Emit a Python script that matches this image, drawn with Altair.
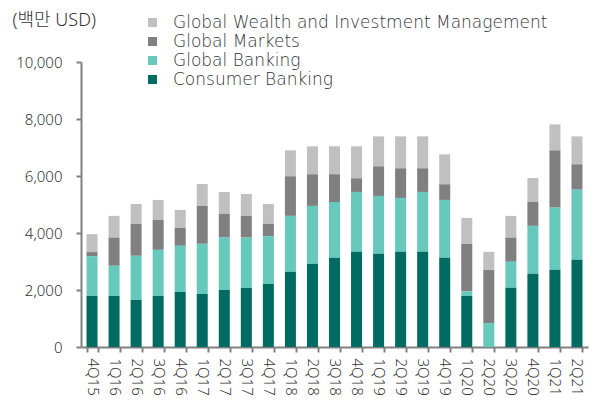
import altair as alt
import pandas as pd

quarters = ["4Q15", "1Q16", "2Q16", "3Q16", "4Q16", "1Q17", "2Q17", "3Q17", "4Q17",
            "1Q18", "2Q18", "3Q18", "4Q18", "1Q19", "2Q19", "3Q19", "4Q19",
            "1Q20", "2Q20", "3Q20", "4Q20", "1Q21", "2Q21"]
consumer_banking = [1790, 1790, 1650, 1790, 1930, 1860, 2000, 2070, 2210,
                    2640, 2920, 3130, 3340, 3270, 3340, 3340, 3130,
                    1790, 0, 2080, 2570, 2710, 3060]
global_banking = [1400, 1060, 1550, 1620, 1620, 1760, 1840, 1770, 1680,
                  1960, 2030, 1960, 2100, 2030, 1890, 2100, 2030,
                  160, 840, 910, 1680, 2180, 2460]
global_markets = [140, 990, 1120, 1050, 630, 1330, 830, 760, 430,
                  1390, 1110, 970, 480, 1040, 1040, 830, 550,
                  1670, 1860, 850, 840, 2010, 890]
gwim = [630, 760, 700, 700, 630, 770, 770, 770, 700,
        910, 980, 980, 1120, 1050, 1120, 1120, 1050,
        910, 640, 760, 840, 910, 980]

series_names = ["Global Wealth and Investment Management", "Global Markets",
                "Global Banking", "Consumer Banking"]
series_colors = ["#c0c0c0", "#808080", "#66c9bb", "#006b61"]
y_ticks = [0, 2000, 4000, 6000, 8000, 10000]

series_values = [gwim, global_markets, global_banking, consumer_banking]
rows = []
for s_idx, (name, vals) in enumerate(zip(series_names, series_values)):
    for q, v in zip(quarters, vals):
        rows.append({"quarter": q, "series": name, "value": v, "ord": 3 - s_idx})
df = pd.DataFrame(rows)

FONT = "Noto Sans, Noto Sans CJK KR, sans-serif"
LEGEND_FONT = "DejaVu Sans, Noto Sans, sans-serif"
TEXT = "#333333"
AXIS = "#808080"

chart = alt.Chart(df).mark_bar().encode(
    x=alt.X("quarter:N", sort=quarters,
            scale=alt.Scale(paddingInner=0.5, paddingOuter=0.25),
            axis=alt.Axis(title=None, labelAngle=90, labelAlign="left", labelBaseline="middle",
                          tickBand="extent", tickSize=5, tickWidth=2, tickColor=AXIS,
                          domainColor=AXIS, domainWidth=2, labelPadding=6,
                          labelFont=FONT, labelFontSize=15, labelFontWeight=300,
                          labelColor=TEXT)),
    y=alt.Y("value:Q", stack="zero",
            scale=alt.Scale(domain=[0, 10000], nice=False),
            axis=alt.Axis(values=y_ticks, format=",d", grid=False,
                          title="(백만 USD)", titleAngle=0, titleX=-69, titleY=-42,
                          titleAlign="left", titleBaseline="middle",
                          titleFont=FONT, titleFontSize=18, titleFontWeight=300,
                          titleColor=TEXT,
                          tickSize=5, tickWidth=2, tickColor=AXIS,
                          domainColor=AXIS, domainWidth=2, labelPadding=14,
                          labelFont=FONT, labelFontSize=15, labelFontWeight=300,
                          labelColor=TEXT)),
    color=alt.Color("series:N",
                    scale=alt.Scale(domain=series_names, range=series_colors),
                    legend=alt.Legend(title=None, orient="none", legendX=63, legendY=-48,
                                      symbolType="square", symbolSize=81,
                                      symbolStrokeWidth=0, labelOffset=12, rowPadding=1,
                                      labelLimit=0,
                                      labelFont=LEGEND_FONT, labelFontSize=17,
                                      labelFontWeight=200, labelColor=TEXT)),
    order=alt.Order("ord:Q"),
).properties(
    width=507, height=285,
    autosize=alt.AutoSizeParams(type="none"),
    padding={"left": 81, "top": 62, "right": 5, "bottom": 56},
).configure_view(stroke=None)

chart.save("out.html", embed_options={"renderer": "svg", "actions": False})
